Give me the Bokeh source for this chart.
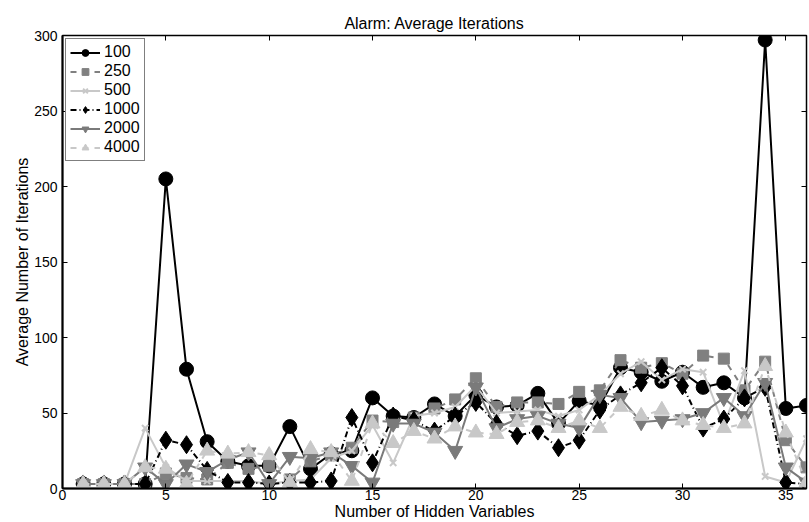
from bokeh.plotting import figure
from bokeh.models import LinearAxis, FixedTicker, Range1d, CustomLabelingPolicy
from bokeh.embed import file_html
from bokeh.resources import INLINE

hidden_vars = list(range(1, 37))

iters_100 = [3, 3, 3, 3, 205, 79, 31, 18, 15, 15, 41, 13, 23, 25, 60, 48, 47, 56,
             48, 62, 54, 55, 63, 43, 58, 55, 80, 77, 71, 77, 67, 70, 60, 297, 53, 55]
iters_250 = [3, 3, 3, 3, 10, 7, 6, 17, 13, 15, 6, 18, 22, 27, 45, 44, 47, 53,
             59, 73, 54, 57, 57, 56, 64, 65, 85, 80, 83, 76, 88, 86, 65, 84, 32, 14]
iters_500 = [3, 3, 3, 40, 14, 5, 5, 5, 5, 3, 5, 6, 20, 25, 42, 17, 48, 50,
             54, 68, 50, 51, 52, 48, 52, 62, 76, 84, 72, 79, 77, 42, 78, 8, 4, 33]
iters_1000 = [3, 3, 3, 3, 32, 29, 12, 4, 4, 3, 4, 4, 5, 47, 17, 48, 45, 38,
              48, 57, 43, 35, 38, 27, 32, 52, 62, 70, 80, 68, 40, 46, 60, 67, 4, 3]
iters_2000 = [3, 3, 3, 14, 3, 16, 11, 19, 24, 3, 21, 20, 24, 15, 4, 43, 43, 37,
              25, 67, 40, 46, 48, 43, 40, 62, 60, 44, 45, 46, 50, 60, 48, 70, 14, 4]
iters_4000 = [3, 3, 3, 14, 13, 3, 25, 23, 24, 22, 4, 26, 24, 5, 43, 30, 38, 33,
              41, 37, 36, 44, 45, 40, 45, 40, 54, 48, 52, 45, 42, 40, 43, 81, 37, 4]

x_ticks = [0, 5, 10, 15, 20, 25, 30, 35]
y_ticks = [0, 50, 100, 150, 200, 250, 300]

series = [
    ("100", iters_100, "#000000", "solid", "circle", 14),
    ("250", iters_250, "#808080", "dashed", "square", 11),
    ("500", iters_500, "#c8c8c8", "solid", "x", 9),
    ("1000", iters_1000, "#000000", "6 3 1 3", "diamond", 18),
    ("2000", iters_2000, "#7a7a7a", "solid", "inverted_triangle", 15),
    ("4000", iters_4000, "#c8c8c8", "dashed", "triangle", 15),
]

FONT = "Liberation Sans"

p = figure(width=809, height=522, x_range=Range1d(0, 36), y_range=Range1d(0, 300),
           output_backend="svg", toolbar_location=None,
           title="Alarm: Average Iterations",
           x_axis_label="Number of Hidden Variables",
           y_axis_label="Average Number of Iterations",
           min_border_left=62, min_border_right=3, min_border_top=35, min_border_bottom=34)

p.title.align = "center"
p.title.text_font = FONT
p.title.text_font_style = "normal"
p.title.text_font_size = "16px"
p.title.text_color = "black"
p.title.standoff = 8
p.xgrid.visible = False
p.ygrid.visible = False
p.outline_line_color = "black"
p.outline_line_width = 1.5
p.background_fill_color = "white"
p.border_fill_color = "white"

for ax in p.xaxis:
    ax.ticker = FixedTicker(ticks=x_ticks)
for ax in p.yaxis:
    ax.ticker = FixedTicker(ticks=y_ticks)

for ax in list(p.xaxis) + list(p.yaxis):
    ax.major_tick_in = 5
    ax.major_tick_out = 0
    ax.minor_tick_in = 0
    ax.minor_tick_out = 0
    ax.axis_line_width = 2
    ax.major_label_text_font = FONT
    ax.major_label_text_font_size = "14px"
    ax.major_label_text_color = "black"
    ax.major_label_standoff = 1
    ax.axis_label_text_font = FONT
    ax.axis_label_text_font_size = "16px"
    ax.axis_label_text_font_style = "normal"
    ax.axis_label_text_color = "black"
    ax.axis_label_standoff = 0
p.yaxis[0].major_label_standoff = 5

no_labels = CustomLabelingPolicy(code="for (const i of indices) { if (false) yield i }")
for loc, tk in (("right", y_ticks), ("above", x_ticks)):
    ax = LinearAxis(ticker=FixedTicker(ticks=tk), major_label_policy=no_labels)
    ax.major_tick_in = 5
    ax.major_tick_out = 0
    ax.minor_tick_in = 0
    ax.minor_tick_out = 0
    ax.axis_line_width = 1
    ax.major_label_standoff = 0
    ax.major_label_text_font_size = "0px"
    p.add_layout(ax, loc)

for label, vals, color, dash, marker, size in series:
    p.line(hidden_vars, vals, line_color=color, line_width=2, line_dash=dash,
           legend_label=label)
    p.scatter(hidden_vars, vals, marker=marker, size=size, fill_color=color,
              line_color=color, line_width=2 if marker == "x" else 1,
              legend_label=label)

lg = p.legend[0]
lg.location = "top_left"
lg.border_line_color = "black"
lg.border_line_width = 1.5
lg.label_text_font = FONT
lg.label_text_font_size = "16px"
lg.label_text_color = "black"
lg.glyph_width = 30
lg.glyph_height = 17
lg.label_height = 17
lg.spacing = 1
lg.padding = 4
lg.margin = 3
lg.label_standoff = 4
lg.background_fill_alpha = 1

open("out.html", "w").write(file_html(p, INLINE))
